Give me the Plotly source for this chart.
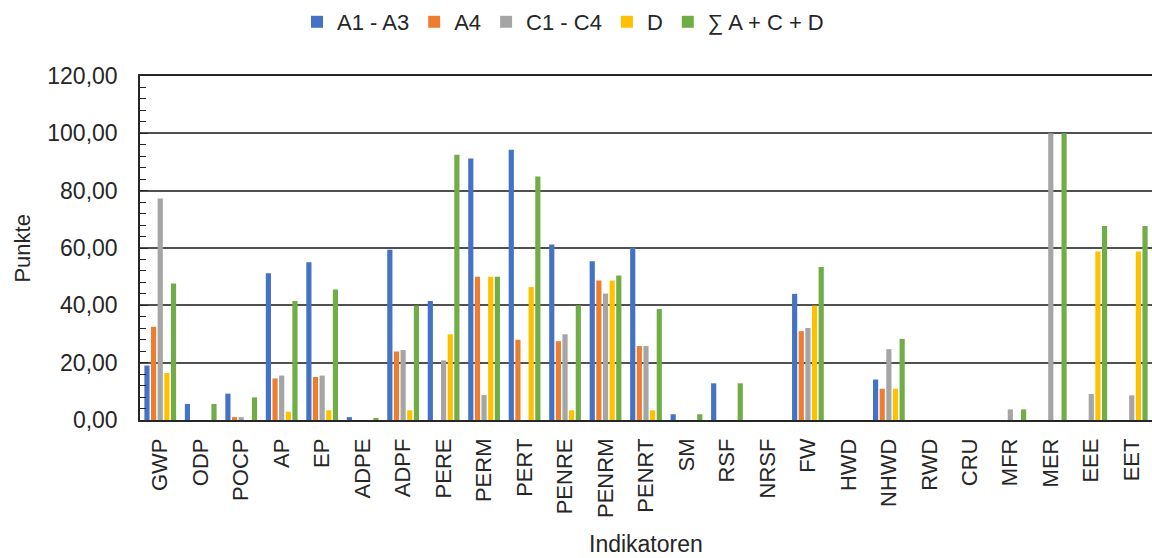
import plotly.graph_objects as go

categories = ["GWP", "ODP", "POCP", "AP", "EP", "ADPE", "ADPF", "PERE", "PERM", "PERT",
              "PENRE", "PENRM", "PENRT", "SM", "RSF", "NRSF", "FW", "HWD", "NHWD", "RWD",
              "CRU", "MFR", "MER", "EEE", "EET"]

a1_a3 = [19.0, 5.6, 9.2, 51.2, 55.0, 1.0, 59.4, 41.5, 91.2, 94.3,
         61.2, 55.4, 60.1, 2.0, 12.8, 0, 44.0, 0, 14.1, 0,
         0, 0, 0, 0, 0]
a4 = [32.5, 0, 1.0, 14.5, 15.0, 0, 23.9, 0, 50.0, 28.0,
      27.5, 48.7, 25.8, 0, 0, 0, 31.0, 0, 10.9, 0,
      0, 0, 0, 0, 0]
c1_c4 = [77.3, 0, 1.0, 15.5, 15.5, 0, 24.4, 20.8, 8.7, 0,
         29.9, 44.1, 25.8, 0, 0, 0, 32.1, 0, 24.7, 0,
         0, 3.7, 100.0, 9.1, 8.6]
d = [16.4, 0, 0, 2.9, 3.4, 0, 3.4, 29.9, 50.0, 46.4,
     3.4, 48.7, 3.4, 0, 0, 0, 39.9, 0, 10.9, 0,
     0, 0, 0, 58.8, 58.8]
total = [47.6, 5.6, 7.9, 41.5, 45.5, 0.7, 39.9, 92.5, 50.0, 84.9,
         40.0, 50.4, 38.7, 2.0, 12.8, 0, 53.4, 0, 28.3, 0,
         0, 3.7, 100.0, 67.7, 67.7]

series_names = ["A1 - A3", "A4", "C1 - C4", "D", "∑ A + C + D"]
series_values = [a1_a3, a4, c1_c4, d, total]
colors = ["#4472C4", "#ED7D31", "#A5A5A5", "#FFC000", "#70AD47"]

fig = go.Figure()
for name, vals, col in zip(series_names, series_values, colors):
    fig.add_trace(go.Bar(x=categories, y=vals, name=name,
                         marker=dict(color=col, line=dict(width=0))))

font = "Liberation Sans, Arial, sans-serif"
txt = "#262626"
fig.update_layout(
    width=1152, height=558,
    margin=dict(l=140, r=0, t=76, b=138, autoexpand=False),
    paper_bgcolor="white", plot_bgcolor="white",
    barmode="group", bargap=0.18, bargroupgap=0.22,
    separators=",.",
    font=dict(family=font, size=22, color=txt),
    showlegend=True,
    legend=dict(orientation="h", x=0.418, xanchor="center", y=1.157, yanchor="middle",
                font=dict(size=22), itemwidth=30, traceorder="normal"),
    annotations=[
        dict(text="Punkte", xref="paper", yref="paper", x=-0.117, y=0.5,
             xanchor="center", yanchor="middle", textangle=-90, showarrow=False,
             font=dict(size=22, color=txt)),
        dict(text="Indikatoren", xref="paper", yref="paper", x=0.5, y=-0.36,
             xanchor="center", yanchor="middle", showarrow=False,
             font=dict(size=23, color=txt)),
    ],
)
fig.update_xaxes(
    automargin=False,
    showline=True, mirror=True, linecolor=txt, linewidth=1.5,
    tickangle=-90, ticks="", tickfont=dict(size=22),
    ticklabelstandoff=8,
)
fig.update_yaxes(
    automargin=False,
    range=[0, 120], dtick=20, tickformat=".2f",
    showline=True, linecolor=txt, linewidth=1.5,
    showgrid=True, gridcolor="#505050", gridwidth=1.6,
    ticks="inside", ticklen=8, tickcolor=txt,
    minor=dict(dtick=4, ticks="inside", ticklen=6, tickcolor=txt, showgrid=False),
    tickfont=dict(size=23), ticklabelstandoff=16,
    zeroline=False,
)
fig.write_html("out.html", config={"displayModeBar": False},
               post_script="document.body.style.margin='0';")
